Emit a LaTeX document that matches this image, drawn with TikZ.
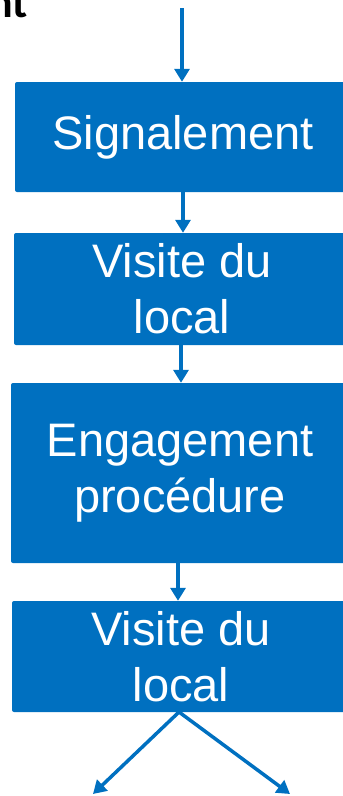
\documentclass[tikz,border=0pt]{standalone}
\usepackage{fontspec}
\setmainfont{Liberation Sans}
\newfontfamily\titlefont{Carlito}
\usetikzlibrary{arrows.meta}
\definecolor{boxblue}{HTML}{0070C0}
\tikzset{
  stepbox/.style={fill=boxblue, draw=none, rounded corners=2pt, text=white,
    font=\fontsize{47}{56}\selectfont, align=center, inner sep=0pt},
  flow/.style={draw=boxblue, line width=3.5pt,
    -{Triangle[length=13pt,width=15pt]}}
}
\begin{document}
\begin{tikzpicture}[x=1pt,y=-1pt]
\useasboundingbox (0,0) rectangle (343,796);
\clip (0,0) rectangle (343,796);
\node[anchor=base east, font=\titlefont\bfseries\fontsize{44}{46}\selectfont, inner sep=0pt] (title) at (28,17) {nt};
\node[stepbox, minimum width=336pt, minimum height=110pt] (b1) at (183,137) {Signalement};
\node[stepbox, minimum width=336pt, minimum height=112pt] (b2) at (182,289) {Visite du\\local};
\node[stepbox, minimum width=338pt, minimum height=180pt] (b3) at (180,473) {Engagement\\procédure};
\node[stepbox, minimum width=338pt, minimum height=111pt] (b4) at (181,656.5) {Visite du\\local};
\coordinate (top) at (182,8);
\coordinate (bl) at (93,794);
\coordinate (br) at (290,794);
\coordinate (b4s) at (179,712);
\draw[flow] (top) -- (top |- b1.north);
\draw[flow] (b1.south) -- (b1.south |- b2.north);
\draw[flow] ([xshift=-1pt]b2.south) -- ([xshift=-1pt]b2.south |- b3.north);
\draw[flow] ([xshift=-2pt]b3.south) -- ([xshift=-2pt]b3.south |- b4.north);
\draw[flow] (b4s) -- (bl);
\draw[flow] (b4s) -- (br);
\end{tikzpicture}
\end{document}
